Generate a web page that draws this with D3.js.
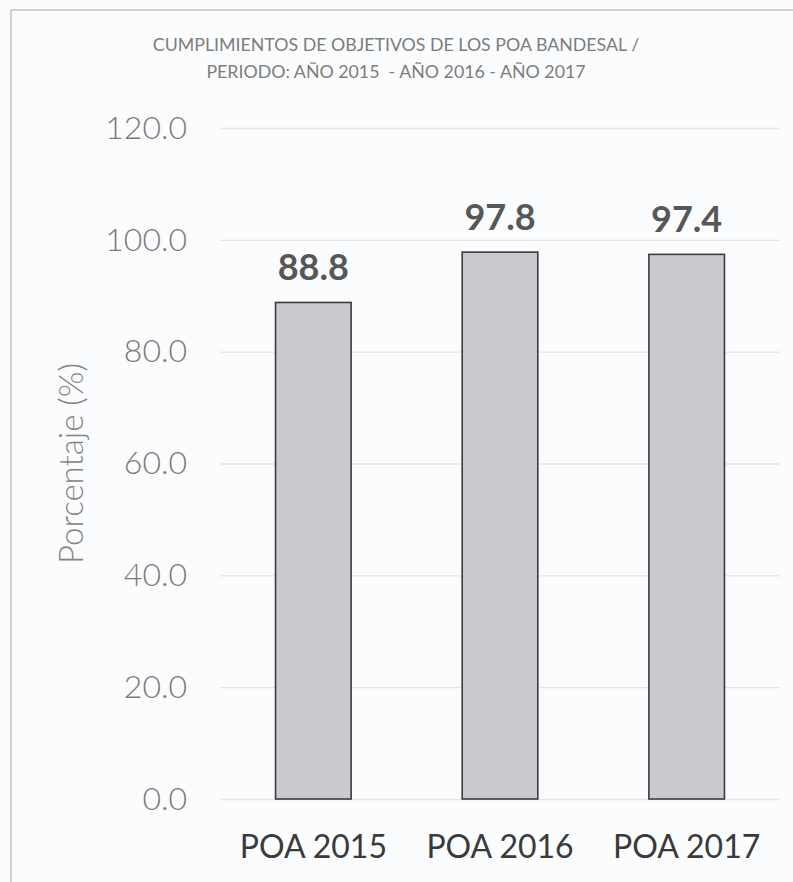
<!DOCTYPE html>
<html>
<head>
<meta charset="utf-8">
<script src="https://cdn.jsdelivr.net/npm/d3@7"></script>
<style>
  html, body { margin: 0; padding: 0; background: #fbfcfd; }
  svg { display: block; }
</style>
</head>
<body>
<div class="chart"></div>
<script>
// POA compliance bar chart

var w = 793, h = 882;

// data
var categories = ['POA 2015', 'POA 2016', 'POA 2017'];
var values = [88.8, 97.8, 97.4];
var yTicks = [0, 20, 40, 60, 80, 100, 120];
var titleLines = ['CUMPLIMIENTOS DE OBJETIVOS DE LOS POA BANDESAL /',
                  'PERIODO: AÑO 2015  - AÑO 2016 - AÑO 2017'];

var margin = {top: 128, right: 13, bottom: 83, left: 220};

var svg = d3.select('.chart').append('svg')
    .attr('width', w)
    .attr('height', h);

// outer frame of the chart
svg.append('rect')
    .attr('x', 11).attr('y', 10)
    .attr('width', w - 8).attr('height', h)
    .attr('fill', '#fbfcfd')
    .attr('stroke', '#b5b5b5')
    .attr('stroke-width', 1.2);

var x = d3.scaleBand()
    .domain(categories)
    .range([margin.left, w - margin.right])
    .paddingInner(0.595)
    .paddingOuter(0.2975);

var y = d3.scaleLinear()
    .domain([0, 120])
    .range([h - margin.bottom, margin.top]);

// title
svg.append('g').selectAll('text')
    .data(titleLines)
  .enter().append('text')
    .attr('x', 396)
    .attr('y', function(d, i) { return 51 + i * 27; })
    .attr('text-anchor', 'middle')
    .style('font-family', 'Lato, sans-serif')
    .style('font-size', '17.8px')
    .style('fill', '#7d7d7d')
    .style('white-space', 'pre')
    .text(function(d) { return d; });

// gridlines
svg.append('g')
    .attr('class', 'grid')
    .attr('transform', 'translate(' + margin.left + ',0)')
    .call(d3.axisLeft(y).tickValues(yTicks).tickSize(-(w - margin.right - margin.left)).tickFormat(''))
    .call(function(g) {
        g.select('.domain').remove();
        g.selectAll('line').attr('stroke', '#e4e6e8').attr('stroke-width', 1.3);
    });

// y tick labels
svg.append('g')
    .attr('transform', 'translate(187,0)')
    .call(d3.axisLeft(y).tickValues(yTicks).tickSize(0).tickPadding(0).tickFormat(d3.format('.1f')))
    .call(function(g) {
        g.select('.domain').remove();
        g.selectAll('text')
            .style('font-family', 'Lato, sans-serif')
            .style('font-weight', 300)
            .style('font-size', '32px')
            .style('fill', '#7a7a7a');
    });

// y axis title
svg.append('text')
    .attr('transform', 'translate(83,' + ((margin.top + h - margin.bottom) / 2) + ') rotate(-90)')
    .attr('text-anchor', 'middle')
    .style('font-family', 'Lato, sans-serif')
    .style('font-weight', 300)
    .style('font-size', '33px')
    .style('fill', '#858585')
    .text('Porcentaje (%)');

// bars
svg.append('g').selectAll('rect')
    .data(values)
  .enter().append('rect')
    .attr('x', function(d, i) { return x(categories[i]); })
    .attr('y', function(d) { return y(d); })
    .attr('width', x.bandwidth())
    .attr('height', function(d) { return y(0) - y(d); })
    .attr('fill', '#c9cacf')
    .attr('stroke', '#3c3c3c')
    .attr('stroke-width', 1.6);

// value labels
svg.append('g').selectAll('text')
    .data(values)
  .enter().append('text')
    .attr('x', function(d, i) { return x(categories[i]) + x.bandwidth() / 2; })
    .attr('y', function(d) { return y(d) - 22; })
    .attr('text-anchor', 'middle')
    .style('font-family', 'Lato, sans-serif')
    .style('font-weight', 700)
    .style('font-size', '36px')
    .style('fill', '#575757')
    .text(function(d) { return d3.format('.1f')(d); });

// x category labels
svg.append('g')
    .attr('transform', 'translate(0,' + (h - margin.bottom) + ')')
    .call(d3.axisBottom(x).tickSize(0).tickPadding(0))
    .call(function(g) {
        g.select('.domain').remove();
        g.selectAll('text')
            .attr('dy', '59px')
            .style('font-family', 'Lato, sans-serif')
            .style('font-size', '32px')
            .style('fill', '#3a3a3a');
    });
</script>
</body>
</html>
